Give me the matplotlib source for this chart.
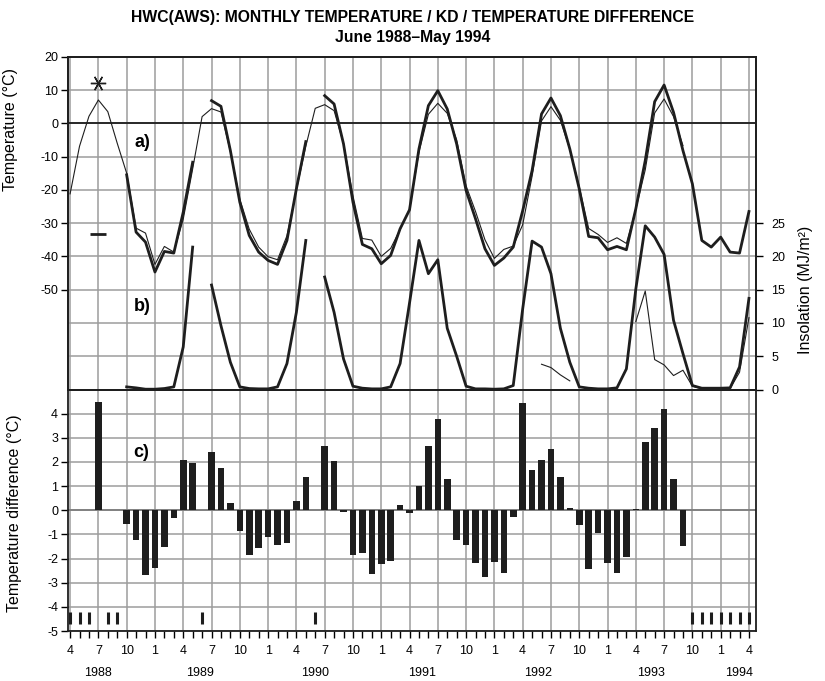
import numpy as np
import matplotlib.pyplot as plt

plt.rcParams['font.family'] = ['Liberation Sans', 'DejaVu Sans']
plt.rcParams['axes.unicode_minus'] = False

nan = np.nan

# month index 0 = April 1988 ... 72 = April 1994
month_labels = ['4', '7', '10', '1'] * 6 + ['4']
years = ['1988', '1989', '1990', '1991', '1992', '1993', '1994']
year_pos = [3.0, 13.8, 26.0, 37.3, 49.6, 61.6, 71.0]

# monthly mean temperature, AWS (thick)
temp_aws = [
    nan, nan, nan, 12.2, nan, nan,
    -15.5, -32.7, -35.7, -44.7, -38.5, -39.0, -26.7, -11.7, nan,
    6.8, 5.1, -8.2, -23.7, -33.7, -38.7, -41.2, -42.4, -35.2, -19.7, -5.5, nan,
    8.3, 5.8, -6.2, -23.7, -36.4, -37.7, -42.2, -39.7, -31.7, -26.0, -7.7,
    5.3, 9.8, 4.3, -6.2, -20.2, -28.7, -37.7, -42.7, -40.5, -37.2, -26.3, -14.2,
    2.8, 7.6, 2.3, -7.7, -19.7, -34.0, -34.4, -38.0, -37.0, -38.0, -25.7, -11.2,
    6.5, 11.5, 3.3, -8.2, -18.2, -35.2, -37.2, -34.2, -38.7, -39.0, -26.5,
]

# monthly mean temperature, reference series (thin)
temp_ref = [
    -21.2, -6.9, 2.1, 7.0, 3.5, -6.0,
    -15.0, -31.5, -33.0, -42.4, -37.0, -38.7, -28.8, -13.7, 2.0,
    4.4, 3.4, -8.5, -22.8, -31.8, -37.2, -40.1, -41.0, -33.8, -20.1, -6.9, 4.5,
    5.6, 3.8, -6.1, -21.8, -34.6, -35.1, -40.0, -37.6, -31.9, -25.9, -8.7,
    2.7, 6.0, 3.0, -5.0, -18.8, -26.5, -35.0, -40.6, -37.9, -36.9, -30.5, -15.9,
    0.7, 5.0, 0.9, -7.8, -19.1, -31.6, -33.4, -35.8, -34.4, -36.1, -25.8, -14.0,
    3.1, 7.3, 2.0, -6.7, nan, nan, nan, nan, nan, nan, nan,
]

# daily insolation, monthly means (MJ/m2)
insol_aws = [
    nan, nan, nan, 23.4, nan, nan,
    0.4, 0.25, 0.05, 0.05, 0.15, 0.4, 6.4, 21.4, nan,
    15.7, 9.6, 4.1, 0.4, 0.15, 0.1, 0.1, 0.4, 3.9, 11.6, 22.4, nan,
    16.9, 11.6, 4.6, 0.5, 0.2, 0.1, 0.1, 0.4, 3.9, 13.0, 22.4,
    17.4, 19.5, 9.2, 5.0, 0.5, 0.1, 0.1, 0.05, 0.1, 0.6, 12.1, 22.3,
    21.4, 17.4, 9.2, 4.1, 0.4, 0.2, 0.1, 0.1, 0.25, 3.1, 15.1, 24.6,
    22.9, 20.3, 10.4, 5.4, 0.6, 0.2, 0.2, 0.2, 0.25, 3.4, 13.7,
]

insol_ref = [nan] * 50 + [3.8, 3.3, 2.2, 1.3] + [nan] * 6 + [
    10.2, 14.8, 4.5, 3.7, 2.1, 2.9, 0.5, 0.1, 0.05, 0.05, 0.15, 2.6, 10.8,
]

# temperature difference AWS - reference
temp_diff = [
    nan, nan, nan, 4.5, nan, nan,
    -0.57, -1.25, -2.7, -2.37, -1.52, -0.33, 2.1, 1.97, nan,
    2.42, 1.74, 0.29, -0.86, -1.86, -1.55, -1.11, -1.45, -1.36, 0.4, 1.39, nan,
    2.65, 2.05, -0.08, -1.86, -1.76, -2.62, -2.21, -2.11, 0.22, -0.12, 0.99,
    2.66, 3.76, 1.29, -1.25, -1.45, -2.18, -2.76, -2.14, -2.58, -0.26, 4.44, 1.66,
    2.1, 2.55, 1.37, 0.1, -0.59, -2.44, -0.96, -2.18, -2.58, -1.93, 0.07, 2.81,
    3.39, 4.2, 1.29, -1.48, nan, nan, nan, nan, nan, nan, nan,
]

months = np.arange(len(temp_aws))
quarters = months[::3]
ink = '#1e1e1e'
grid_col = '#9c9c9c'
tick_fs = 9
label_fs = 11.5
xlim = (-0.25, 72.75)
top_rect = [0.0821, 0.428, 0.8343, 0.4887]


def isolated(vals):
    v = np.asarray(vals, dtype=float)
    ok = np.isfinite(v)
    prev = np.r_[False, ok[:-1]]
    nxt = np.r_[ok[1:], False]
    return ok & ~prev & ~nxt


fig = plt.figure(figsize=(8.25, 6.81), dpi=100)

# plain background axes behind the upper panel holding its vertical grid
axg = fig.add_axes(top_rect, label='grid', zorder=-1)
axg.set_xlim(*xlim)
axg.set_ylim(0, 1)
axg.vlines(quarters, 0, 1, color=grid_col, lw=1.1)
axg.set_xticks([])
axg.set_yticks([])
for sp in axg.spines.values():
    sp.set_visible(False)

ax1 = fig.add_axes(top_rect, label='temp')
ax2 = fig.add_axes([0.0821, 0.0734, 0.8343, 0.3546], sharex=ax1)
ax1.set_xlim(*xlim)

axr = ax1.twinx()
axr.set_autoscalex_on(False)
ax1.set_zorder(axr.get_zorder() + 1)
ax1.patch.set_visible(False)
axr.patch.set_visible(False)

# --- b) insolation ---
axr.set_ylim(0, 50)
axr.set_yticks(np.arange(0, 26, 5))
axr.set_yticks(np.arange(30, 50, 5), minor=True)
axr.grid(True, axis='y', which='both', color=grid_col, lw=1.1)
axr.tick_params(axis='y', which='major', direction='out', length=5,
                width=1, labelsize=tick_fs, pad=6)
axr.tick_params(axis='y', which='minor', length=0)
axr.plot(months, insol_ref, color=ink, lw=0.8, zorder=3)
axr.plot(months, insol_aws, color=ink, lw=2.0, zorder=4)
iso = isolated(insol_aws)
axr.plot(months[iso], np.asarray(insol_aws)[iso], ls='none',
         marker='_', ms=12, mew=2.0, color=ink, zorder=5)
axr.set_ylabel('Insolation (MJ/m²)', fontsize=label_fs)
axr.yaxis.set_label_coords(1.061, 0.30)

# --- a) temperature ---
ax1.set_ylim(-80, 20)
ax1.set_yticks(np.arange(-50, 21, 10))
ax1.axhline(0, color=ink, lw=1.3, zorder=1)
ax1.tick_params(axis='x', which='both', length=0, labelbottom=False)
ax1.tick_params(axis='y', which='major', direction='out', length=5,
                width=1, labelsize=tick_fs, pad=2)

ax1.plot(months, temp_ref, color=ink, lw=0.8, zorder=3)
ax1.plot(months, temp_aws, color=ink, lw=2.0, zorder=4)
iso = isolated(temp_aws)
ax1.plot(months[iso], np.asarray(temp_aws)[iso], ls='none',
         marker=(6, 2, 90), ms=11, mew=1.0, color=ink, zorder=5)

ax1.set_ylabel('Temperature (°C)', fontsize=label_fs)
ax1.yaxis.set_label_coords(-0.072, 0.78)

ax1.text(6.8, -5.8, 'a)', fontsize=13, fontweight='bold', va='center')
ax1.text(6.8, -55.2, 'b)', fontsize=13, fontweight='bold', va='center')

# --- c) temperature difference ---
ax2.set_ylim(-5, 5)
ax2.vlines(quarters, -5, 5, color=grid_col, lw=1.1, zorder=0)
ax2.set_yticks(np.arange(-5, 5, 1))
ax2.set_yticks([5], minor=True)
ax2.grid(True, which='both', axis='y', color=grid_col, lw=1.1, zorder=0)
ax2.axhline(0, color=ink, lw=1.3, zorder=1)
ax2.bar(months, temp_diff, width=0.7, color=ink, zorder=3)
gap = ~np.isfinite(np.asarray(temp_diff, dtype=float))
ax2.plot(months[gap], np.full(gap.sum(), -4.47), ls='none', marker='|',
         ms=9, mew=2.2, color=ink, zorder=3)

ax2.set_xticks(quarters)
ax2.set_xticklabels(month_labels)
ax2.set_xticks(months, minor=True)
ax2.tick_params(axis='x', which='both', direction='out', length=5,
                width=1, labelsize=tick_fs, pad=5)
ax2.tick_params(axis='y', which='major', direction='out', length=5,
                width=1, labelsize=tick_fs, pad=2)
ax2.tick_params(axis='y', which='minor', length=0)
for yr, xp in zip(years, year_pos):
    ax2.text(xp, -0.174, yr, transform=ax2.get_xaxis_transform(),
             ha='center', va='center', fontsize=tick_fs)
ax2.text(6.7, 2.4, 'c)', fontsize=13, fontweight='bold', va='center')
ax2.set_ylabel('Temperature difference (°C)', fontsize=label_fs)
ax2.yaxis.set_label_coords(-0.067, 0.49)
ax2.set_xlim(*xlim)

for ax in (ax1, ax2, axr):
    for sp in ax.spines.values():
        sp.set_color(ink)
        sp.set_linewidth(1.3)

fig.text(0.5, 0.975, 'HWC(AWS): MONTHLY TEMPERATURE / KD / TEMPERATURE DIFFERENCE',
         ha='center', va='center', fontsize=11.3, fontweight='bold')
fig.text(0.5, 0.945, 'June 1988–May 1994', ha='center', va='center',
         fontsize=11.3, fontweight='bold')

fig.savefig('out.png', dpi=100)
